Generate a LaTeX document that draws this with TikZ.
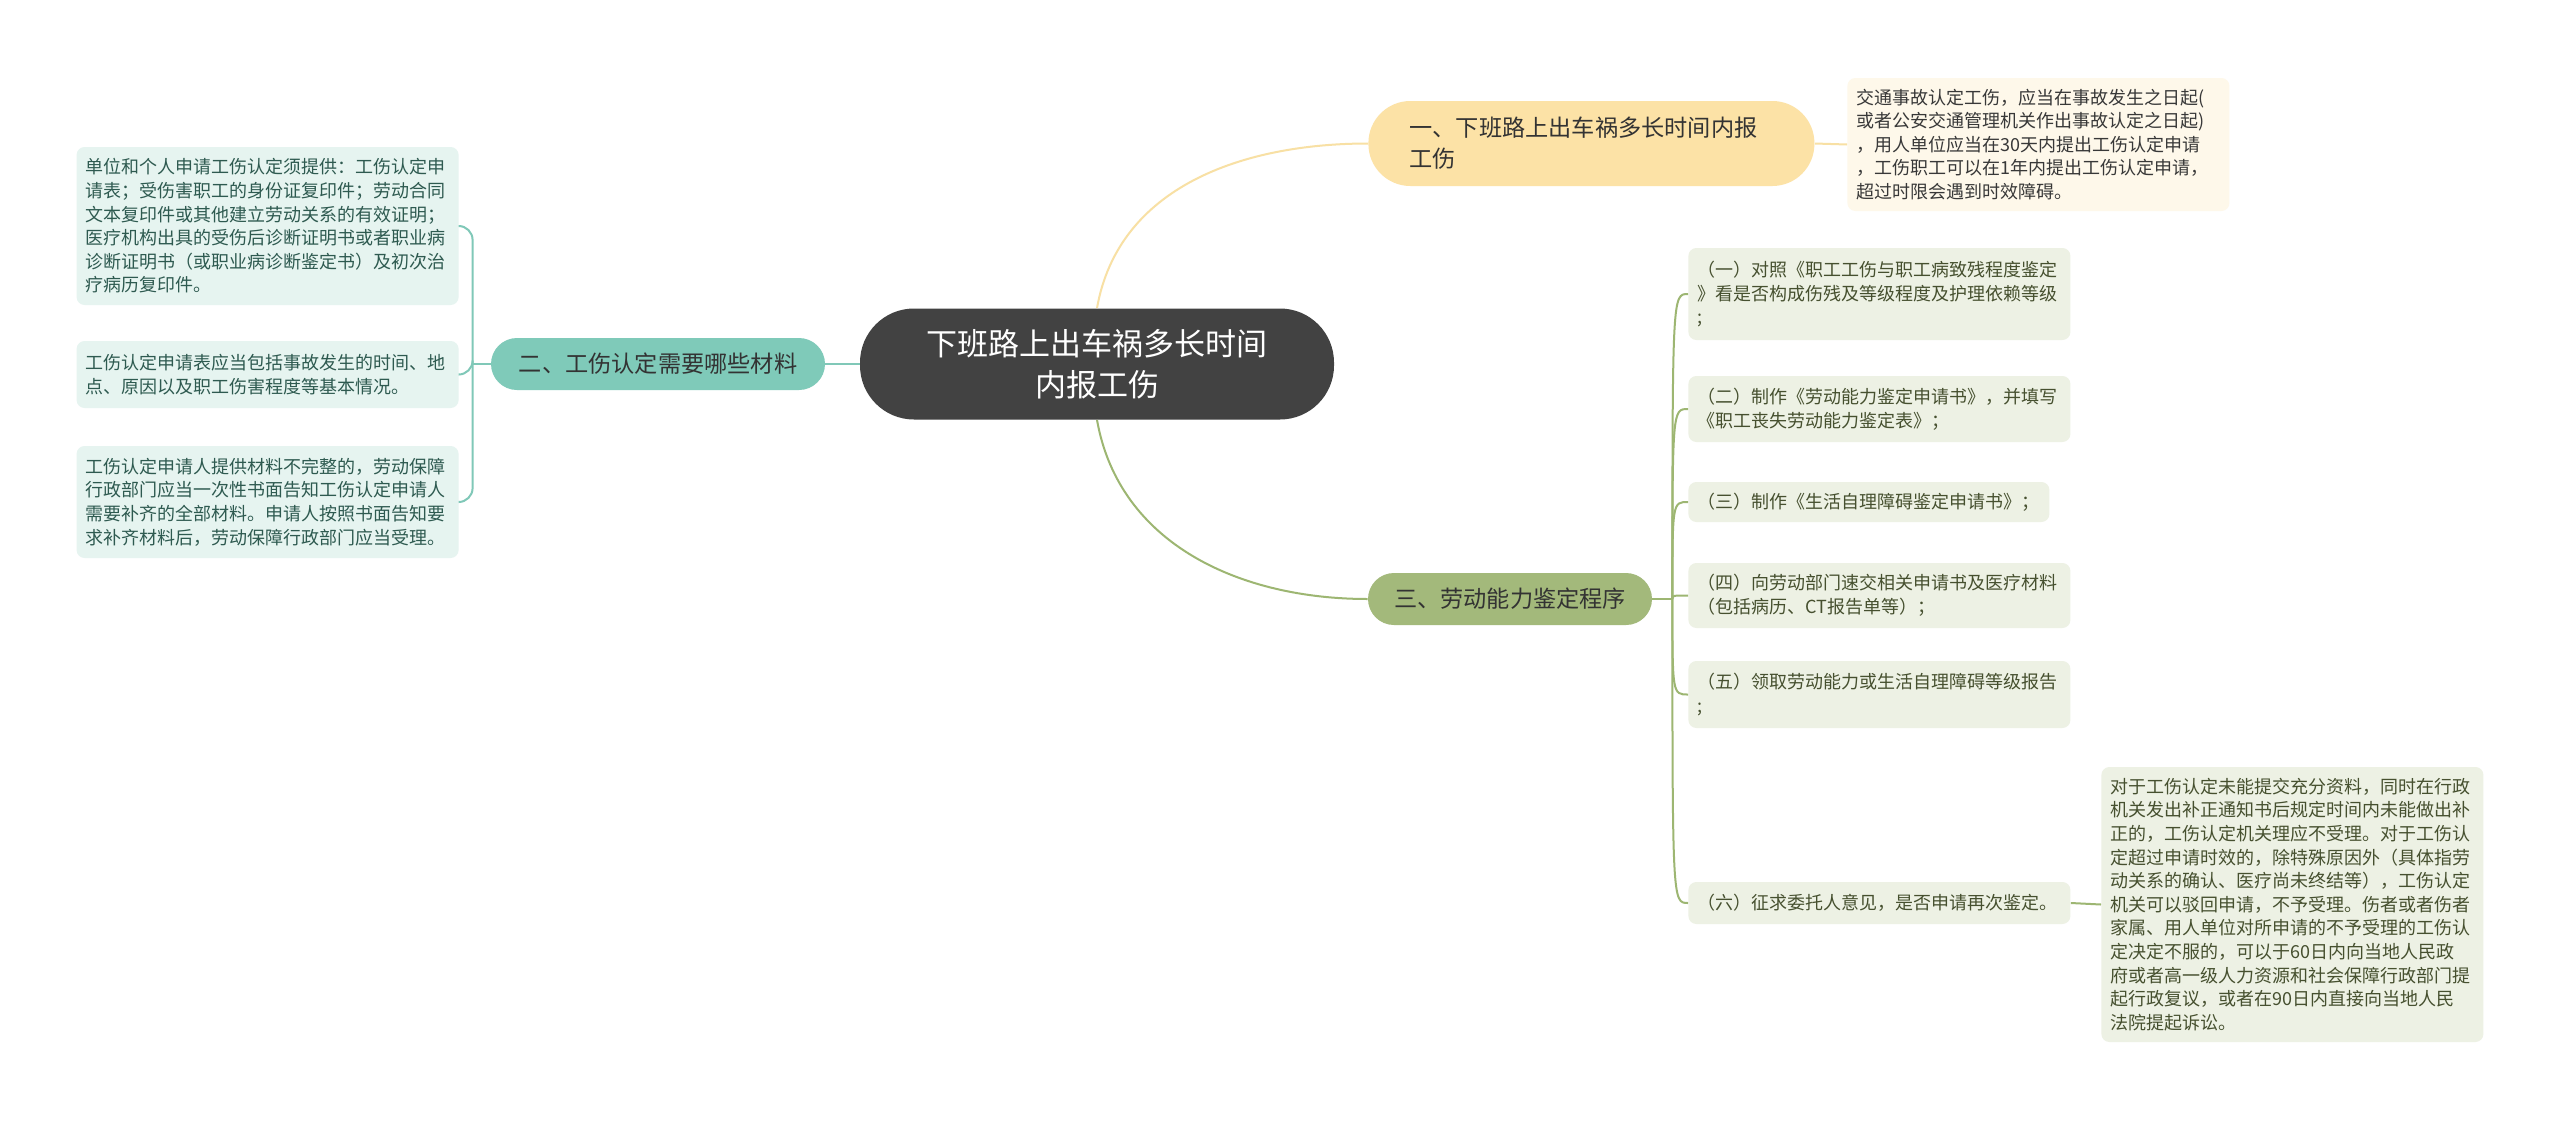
\documentclass[tikz,border=0pt]{standalone}
\usepackage{fontspec}
\setmainfont{Noto Sans CJK SC}
\usepackage{xcolor}
\usepackage{tikz}

\definecolor{rootfill}{HTML}{424242}
\definecolor{yelfill}{HTML}{FCE2A6}
\definecolor{yelleaf}{HTML}{FEF8EA}
\definecolor{yelline}{HTML}{F8E0A4}
\definecolor{tealfill}{HTML}{7FCAB9}
\definecolor{tealleaf}{HTML}{E6F4F0}
\definecolor{tealline}{HTML}{80C8B8}
\definecolor{tealtext}{HTML}{2E5A50}
\definecolor{olivefill}{HTML}{A3B97B}
\definecolor{oliveleaf}{HTML}{EDF1E4}
\definecolor{oliveline}{HTML}{9DB672}
\definecolor{olivetext}{HTML}{46502F}

\begin{document}
\begin{tikzpicture}[x=0.5pt,y=-0.5pt,
    topic/.style={fill=rootfill,text=white,rounded corners=27pt,align=center,
                  minimum width=237pt,minimum height=55.5pt,inner sep=0pt,
                  font=\fontsize{15.5pt}{20.5pt}\selectfont},
    branch/.style={align=center,inner sep=0pt,text=black!80,
                   font=\fontsize{11.6pt}{15.5pt}\selectfont},
    leaf/.style={rounded corners=4pt,align=left,inner xsep=4.5pt,inner ysep=0pt,
                 text width=182pt,font=\fontsize{9pt}{11.8pt}\selectfont},
    yleaf/.style={leaf,fill=yelleaf,text=black!78},
    tleaf/.style={leaf,fill=tealleaf,text=tealtext},
    oleaf/.style={leaf,fill=oliveleaf,text=olivetext},
    link/.style={line width=1pt}
  ]
    \useasboundingbox (0,0) rectangle (2560,1120);
    \fill[white] (0,0) rectangle (2560,1120);

    \node[topic] (root) at (1097,364) {下班路上出车祸多长时间\\内报工伤};

    \node[branch,fill=yelfill,anchor=west,align=left,rounded corners=21pt,
          minimum height=42.5pt,inner xsep=20.5pt,text width=182pt] (b1) at (1368,143.5)
      {一、下班路上出车祸多长时间内报\\工伤};
    \node[yleaf,anchor=west,minimum height=66.5pt] (l1) at (1847,144.5)
      {交通事故认定工伤，应当在事故发生之日起(\\或者公安交通管理机关作出事故认定之日起)\\，用人单位应当在30天内提出工伤认定申请\\，工伤职工可以在1年内提出工伤认定申请，\\超过时限会遇到时效障碍。};

    \node[branch,fill=tealfill,rounded corners=13pt,minimum width=167pt,
          minimum height=26pt] (b2) at (658,364) {二、工伤认定需要哪些材料};
    \node[tleaf,anchor=east,minimum height=79pt] (l2a) at (459,226)
      {单位和个人申请工伤认定须提供：工伤认定申\\请表；受伤害职工的身份证复印件；劳动合同\\文本复印件或其他建立劳动关系的有效证明；\\医疗机构出具的受伤后诊断证明书或者职业病\\诊断证明书（或职业病诊断鉴定书）及初次治\\疗病历复印件。};
    \node[tleaf,anchor=east,minimum height=33.5pt] (l2b) at (459,374.5)
      {工伤认定申请表应当包括事故发生的时间、地\\点、原因以及职工伤害程度等基本情况。};
    \node[tleaf,anchor=east,minimum height=56pt] (l2c) at (459,502)
      {工伤认定申请人提供材料不完整的，劳动保障\\行政部门应当一次性书面告知工伤认定申请人\\需要补齐的全部材料。申请人按照书面告知要\\求补齐材料后，劳动保障行政部门应当受理。};

    \node[branch,fill=olivefill,rounded corners=13pt,minimum width=142pt,
          minimum height=26pt] (b3) at (1510,599) {三、劳动能力鉴定程序};
    \node[oleaf,anchor=west,minimum height=46pt] (l3a) at (1688,294)
      {（一）对照《职工工伤与职工病致残程度鉴定\\》看是否构成伤残及等级程度及护理依赖等级\\;};
    \node[oleaf,anchor=west,minimum height=33pt] (l3b) at (1688,409)
      {（二）制作《劳动能力鉴定申请书》，并填写\\《职工丧失劳动能力鉴定表》；};
    \node[oleaf,anchor=west,minimum height=20pt,text width=171.5pt] (l3c) at (1688,502)
      {（三）制作《生活自理障碍鉴定申请书》；};
    \node[oleaf,anchor=west,minimum height=32.5pt] (l3d) at (1688,595.5)
      {（四）向劳动部门速交相关申请书及医疗材料\\（包括病历、CT报告单等）；};
    \node[oleaf,anchor=west,minimum height=33.5pt] (l3e) at (1688,694.5)
      {（五）领取劳动能力或生活自理障碍等级报告\\;};
    \node[oleaf,anchor=west,minimum height=21pt] (l3f) at (1688,903)
      {（六）征求委托人意见，是否申请再次鉴定。};
    \node[oleaf,anchor=west,minimum height=137.5pt] (l3g) at (2101,904.5)
      {对于工伤认定未能提交充分资料，同时在行政\\机关发出补正通知书后规定时间内未能做出补\\正的，工伤认定机关理应不受理。对于工伤认\\定超过申请时效的，除特殊原因外（具体指劳\\动关系的确认、医疗尚未终结等），工伤认定\\机关可以驳回申请，不予受理。伤者或者伤者\\家属、用人单位对所申请的不予受理的工伤认\\定决定不服的，可以于60日内向当地人民政\\府或者高一级人力资源和社会保障行政部门提\\起行政复议，或者在90日内直接向当地人民\\法院提起诉讼。};

    % connectors
    \draw[link,yelline] (root.north) to[out=80,in=180] (b1.west);
    \draw[link,yelline] (b1.east) -- (l1.west);
    \draw[link,tealline] (root.west) -- (b2.east);
    \draw[link,tealline] (b2.west) -- ++(-18,0) coordinate (t2);
    \foreach \n in {l2a,l2b,l2c}
      \draw[link,tealline,rounded corners=7pt] (t2) |- (\n.east);
    \draw[link,oliveline] (root.south) to[out=-80,in=180] (b3.west);
    \draw[link,oliveline] (b3.east) -- ++(20,0) coordinate (t3);
    \foreach \n in {l3a,l3b,l3c,l3d,l3e,l3f}
      \draw[link,oliveline] (t3) .. controls (t3 |- \n.west) and (t3 |- \n.west) .. (\n.west);
    \draw[link,oliveline] (l3f.east) -- (l3g.west);
  \end{tikzpicture}
\end{document}
